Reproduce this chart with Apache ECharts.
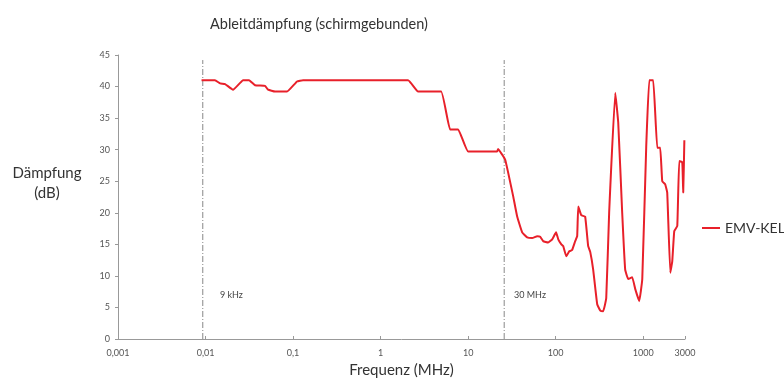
<!DOCTYPE html>
<html>
<head>
<meta charset="utf-8">
<title>Ableitdämpfung</title>
<script src="https://cdn.jsdelivr.net/npm/echarts@6/dist/echarts.min.js"></script>
<style>
    body { margin: 0; background: #fff; }
    #chart { width: 784px; height: 383px; }
</style>
</head>
<body>
<div id="chart"></div>
<script>
    // Frequenz in MHz, Dämpfung in dB
    var freqMHz = [
        0.009, 0.0128, 0.0147, 0.0167, 0.0206, 0.0269, 0.0314, 0.0368, 0.0479, 0.0518,
        0.0622, 0.0853, 0.111, 0.13, 2.06, 2.68, 4.91, 6.22, 7.69, 10,
        21.4, 22, 24.5, 26.5, 28.6, 32.7, 36.3, 41.4, 47.2, 53.9,
        61.5, 66.5, 71.9, 82, 91.2, 101, 107, 116, 122, 132,
        143, 154, 167, 176, 181, 196, 217, 235, 248, 268,
        298, 323, 349, 378, 408, 479, 518, 575, 622, 674,
        748, 811, 900, 975, 1082, 1172, 1301, 1445, 1563, 1648,
        1783, 1880, 2037, 2145, 2262, 2448, 2578, 2792, 2862, 2950
    ];
    var daempfung = [
        41, 41, 40.5, 40.4, 39.5, 41, 41, 40.2, 40.1, 39.5,
        39.2, 39.2, 40.8, 41, 41, 39.2, 39.2, 33.2, 33.2, 29.7,
        29.7, 30.1, 29.2, 28.4, 26.4, 22.6, 19.4, 16.9, 16.1, 16,
        16.3, 16.2, 15.5, 15.3, 15.8, 16.9, 15.8, 15, 14.7, 13.1,
        13.9, 14.1, 15.5, 16.3, 21, 19.6, 19.4, 14.7, 13.8, 11,
        5.5, 4.5, 4.4, 6.5, 20, 39, 34.3, 20, 11, 9.5,
        9.8, 7.9, 6, 9.5, 30.5, 41, 41, 30.3, 30.3, 25,
        24.5, 23.2, 10.5, 12.3, 17.1, 17.9, 28.2, 28, 23.2, 31.5
    ];
    // Grenzen (9 kHz / 30 MHz), als senkrechte Linien
    var markerFreq = [0.0093, 25.8];
    var markerTopDb = 44.2;
    var markerText = ['9 kHz', '30 MHz'];
    var markerLabelFreq = [0.0146, 33.4];
    var markerLabelDb = 7;

    var font = 'Lato, "Noto Sans", sans-serif';
    var chart = echarts.init(document.getElementById('chart'));

    var points = freqMHz.map(function (f, i) { return [f, daempfung[i]]; });

    var markerSeries = markerFreq.map(function (f) {
        return {
            type: 'line',
            silent: true,
            symbol: 'none',
            data: [[f, 0], [f, markerTopDb]],
            lineStyle: { color: '#888', width: 1, type: [6, 2, 1, 2] },
            z: 1
        };
    });

    chart.setOption({
        animation: false,
        textStyle: { fontFamily: font },
        title: [{
            text: 'Ableitdämpfung (schirmgebunden)',
            left: 205,
            top: 12,
            textStyle: { fontSize: 14.5, fontWeight: 'normal', color: '#333', fontFamily: font }
        }, {
            // y-Achsentitel
            text: 'Dämpfung\n(dB)',
            left: 42,
            top: 158,
            textAlign: 'center',
            textStyle: { fontSize: 15, fontWeight: 'normal', color: '#333', lineHeight: 20, fontFamily: font }
        }],
        legend: {
            orient: 'vertical',
            left: 697,
            top: 216,
            itemWidth: 18,
            itemHeight: 2,
            itemGap: 5,
            textStyle: { fontSize: 14, color: '#333', fontFamily: font },
            data: [{ name: 'EMV-KEL', icon: 'rect' }]
        },
        grid: { left: 118, right: 99, top: 55, bottom: 43 },
        xAxis: {
            type: 'log',
            logBase: 10,
            min: 0.001,
            max: 3000,
            name: 'Frequenz (MHz)',
            nameLocation: 'middle',
            nameGap: 24,
            nameTextStyle: { fontSize: 15, color: '#333', fontFamily: font },
            axisLine: { lineStyle: { color: '#999' } },
            axisTick: { show: true, inside: true, length: 3, lineStyle: { color: '#999' } },
            splitLine: { show: false },
            minorTick: { show: false },
            axisLabel: {
                interval: 0,
                fontSize: 9,
                color: '#555',
                margin: 10,
                formatter: function (v) { return String(+v.toPrecision(6)).replace('.', ','); }
            }
        },
        yAxis: {
            type: 'value',
            min: 0,
            max: 45,
            interval: 5,
            axisLine: { show: true, lineStyle: { color: '#999' } },
            axisTick: { show: true, length: 3, lineStyle: { color: '#999' } },
            splitLine: { show: false },
            axisLabel: { fontSize: 9, color: '#555', margin: 8 }
        },
        series: markerSeries.concat([{
            name: 'EMV-KEL',
            type: 'line',
            data: points,
            symbol: 'none',
            showSymbol: false,
            smooth: 0.1,
            z: 3,
            lineStyle: { color: '#e8202a', width: 2 },
            itemStyle: { color: '#e8202a' },
            markPoint: {
                silent: true,
                symbol: 'circle',
                symbolSize: 0,
                label: {
                    show: true,
                    position: 'right',
                    distance: 0,
                    fontSize: 9,
                    color: '#444',
                    formatter: function (p) { return p.name; }
                },
                data: markerText.map(function (t, i) {
                    return { name: t, coord: [markerLabelFreq[i], markerLabelDb] };
                })
            }
        }])
    });
</script>
</body>
</html>
